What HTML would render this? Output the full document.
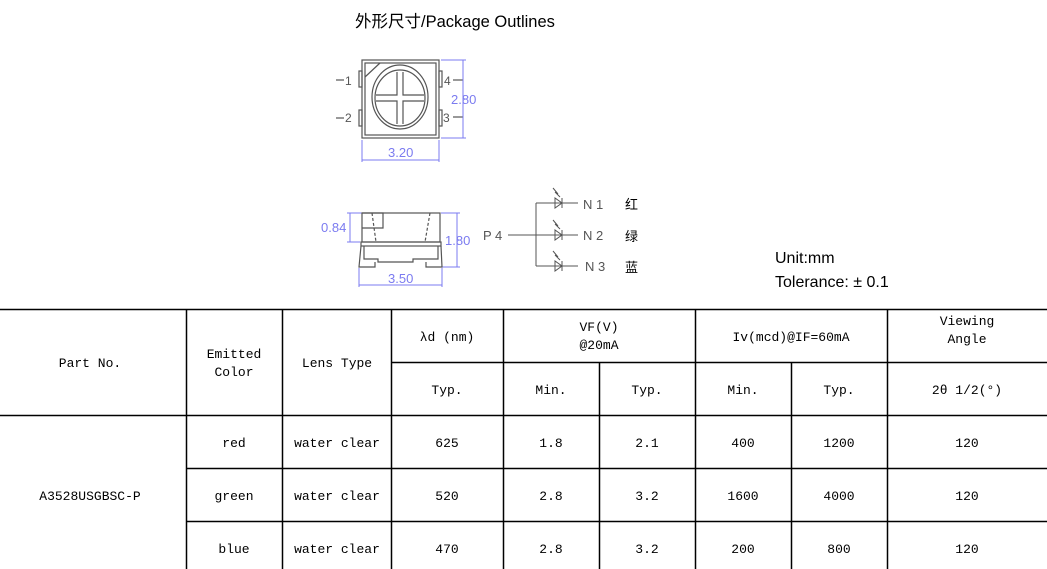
<!DOCTYPE html>
<html><head><meta charset="utf-8"><style>
html,body{margin:0;padding:0;background:#fff;width:1047px;height:569px;overflow:hidden}
svg{display:block}
.t{font-family:"Liberation Mono","Noto Sans CJK SC",monospace;font-size:13px;fill:#000;text-anchor:middle}
.b{font-family:"Liberation Sans",sans-serif;font-size:12px;fill:#7b7bf0}
.g{font-family:"Liberation Sans",sans-serif;font-size:12px;fill:#555}
</style></head><body>
<svg width="1047" height="569" viewBox="0 0 1047 569">
<text x="355" y="27" style="font-family:'Liberation Sans','Noto Sans CJK SC',sans-serif;font-size:16.5px">外形尺寸/Package Outlines</text>
<g stroke="#555" fill="none" stroke-width="1.2">
<rect x="362" y="60" width="77" height="78"/>
<rect x="365" y="63" width="71" height="72"/>
<rect x="359" y="71" width="3" height="16"/><rect x="359" y="110" width="3" height="16"/>
<rect x="439" y="71" width="3" height="16"/><rect x="439" y="110" width="3" height="16"/>
<line x1="365" y1="77" x2="380" y2="63"/>
<ellipse cx="400" cy="97" rx="28" ry="32"/>
<ellipse cx="400" cy="98" rx="25" ry="28"/>
<path d="M376 95H397V72M403 72V95H424M424 101H403V124M397 124V101H376"/>
<line x1="336" y1="80" x2="344" y2="80"/><line x1="336" y1="118" x2="344" y2="118"/>
<line x1="453" y1="80" x2="463" y2="80"/><line x1="453" y1="117" x2="463" y2="117"/>
</g>
<text x="345" y="85" class="g">1</text><text x="345" y="122" class="g">2</text>
<text x="444" y="85" class="g">4</text><text x="443" y="122" class="g">3</text>
<g stroke="#7b7bf0" stroke-width="1" fill="none">
<line x1="463" y1="60" x2="463" y2="138"/><line x1="441" y1="60" x2="466" y2="60"/><line x1="441" y1="138" x2="466" y2="138"/>
<line x1="362" y1="140" x2="362" y2="162"/><line x1="439" y1="140" x2="439" y2="162"/><line x1="362" y1="160" x2="439" y2="160"/>
<line x1="350" y1="213" x2="350" y2="242"/><line x1="347" y1="213" x2="362" y2="213"/><line x1="347" y1="242" x2="360" y2="242"/>
<line x1="457" y1="213" x2="457" y2="267"/><line x1="441" y1="213" x2="460" y2="213"/><line x1="441" y1="267" x2="460" y2="267"/>
<line x1="359" y1="268" x2="359" y2="287"/><line x1="442" y1="268" x2="442" y2="287"/><line x1="359" y1="285" x2="442" y2="285"/>
</g>
<text x="451" y="104" class="b" style="font-size:13px">2.80</text>
<text x="388" y="157" class="b" style="font-size:13px">3.20</text>
<text x="321" y="232" class="b" style="font-size:13px">0.84</text>
<text x="445" y="245" class="b" style="font-size:13px">1.80</text>
<text x="388" y="283" class="b" style="font-size:13px">3.50</text>
<g stroke="#555" fill="none" stroke-width="1.2">
<rect x="362" y="213" width="78" height="29"/>
<path d="M362 213H383V228H362"/>
<path d="M372 213L376 242M430 213L425 242" stroke-dasharray="3,2"/>
<rect x="361" y="242" width="80" height="4"/>
<path d="M364 246V259H378V262H413V259H438V246"/>
<path d="M361 246L359 267H375V262M441 246L442 267H426V262"/>
</g>
<g stroke="#555" fill="none" stroke-width="1">
<line x1="508" y1="235" x2="578" y2="235"/>
<line x1="536" y1="203" x2="536" y2="266"/>
<line x1="536" y1="203" x2="578" y2="203"/><line x1="536" y1="266" x2="578" y2="266"/>
<path d="M555 198V208L562 203ZM562 198V208"/>
<path d="M555 230V240L562 235ZM562 230V240"/>
<path d="M555 261V271L562 266ZM562 261V271"/>
<path d="M553 188L558 194M555 192L560 197M553 220L558 226M555 224L560 229M553 251L558 257M555 255L560 260"/>
</g>
<g class="g" style="font-size:13px">
<text x="483" y="240">P 4</text>
<text x="583" y="209">N 1</text><text x="583" y="240">N 2</text><text x="585" y="271">N 3</text>
<text x="625" y="209" style="font-family:'Noto Sans CJK SC',sans-serif;fill:#000">红</text>
<text x="625" y="241" style="font-family:'Noto Sans CJK SC',sans-serif;fill:#000">绿</text>
<text x="625" y="272" style="font-family:'Noto Sans CJK SC',sans-serif;fill:#000">蓝</text>
</g>
<text x="775" y="263" style="font-family:'Liberation Sans','Noto Sans CJK SC',sans-serif;font-size:16px">Unit:mm</text>
<text x="775" y="287" style="font-family:'Liberation Sans','Noto Sans CJK SC',sans-serif;font-size:16px">Tolerance: ± 0.1</text>
<g stroke="#000" stroke-width="1.5">
<line x1="0" y1="309.5" x2="1047" y2="309.5"/>
<line x1="391" y1="362.5" x2="1047" y2="362.5"/>
<line x1="0" y1="415.5" x2="1047" y2="415.5"/>
<line x1="186" y1="468.5" x2="1047" y2="468.5"/>
<line x1="186" y1="521.5" x2="1047" y2="521.5"/>
<line x1="186.5" y1="309" x2="186.5" y2="569"/>
<line x1="282.5" y1="309" x2="282.5" y2="569"/>
<line x1="391.5" y1="309" x2="391.5" y2="569"/>
<line x1="503.5" y1="309" x2="503.5" y2="569"/>
<line x1="599.5" y1="362" x2="599.5" y2="569"/>
<line x1="695.5" y1="309" x2="695.5" y2="569"/>
<line x1="791.5" y1="362" x2="791.5" y2="569"/>
<line x1="887.5" y1="309" x2="887.5" y2="569"/>
</g>
<g class="t">
<text x="90" y="367">Part No.</text>
<text x="234" y="358">Emitted</text><text x="234" y="376">Color</text>
<text x="337" y="367">Lens Type</text>
<text x="447" y="341">λd (nm)</text>
<text x="599" y="331">VF(V)</text><text x="599" y="349">@20mA</text>
<text x="791" y="341">Iv(mcd)@IF=60mA</text>
<text x="967" y="325">Viewing</text><text x="967" y="343">Angle</text>
<text x="447" y="394">Typ.</text><text x="551" y="394">Min.</text><text x="647" y="394">Typ.</text>
<text x="743" y="394">Min.</text><text x="839" y="394">Typ.</text><text x="967" y="394">2θ 1/2(°)</text>
<text x="90" y="500">A3528USGBSC-P</text>
<text x="234" y="447">red</text><text x="337" y="447">water clear</text><text x="447" y="447">625</text><text x="551" y="447">1.8</text><text x="647" y="447">2.1</text><text x="743" y="447">400</text><text x="839" y="447">1200</text><text x="967" y="447">120</text>
<text x="234" y="500">green</text><text x="337" y="500">water clear</text><text x="447" y="500">520</text><text x="551" y="500">2.8</text><text x="647" y="500">3.2</text><text x="743" y="500">1600</text><text x="839" y="500">4000</text><text x="967" y="500">120</text>
<text x="234" y="553">blue</text><text x="337" y="553">water clear</text><text x="447" y="553">470</text><text x="551" y="553">2.8</text><text x="647" y="553">3.2</text><text x="743" y="553">200</text><text x="839" y="553">800</text><text x="967" y="553">120</text>
</g>
</svg>
</body></html>
